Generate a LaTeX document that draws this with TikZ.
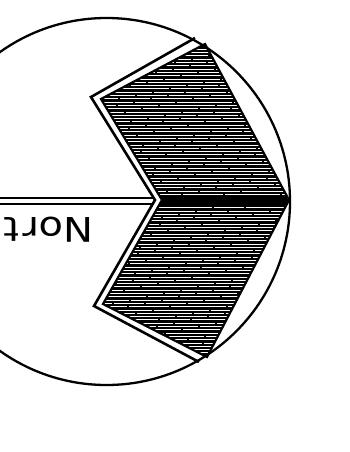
\documentclass[tikz,border=0pt]{standalone}
\usepackage{fontspec}
\newfontfamily\labelfont{DejaVu Sans}
\tikzset{
  rim/.style={line width=2.3pt},
  chevronline/.style={line width=2.6pt, line join=miter},
  hatchline/.style={white, line width=0.95pt, dash pattern=on 55pt off 2pt on 30pt off 1.5pt on 40pt off 2.5pt},
  labeltext/.style={font=\labelfont\fontsize{34}{34}\selectfont, inner sep=0pt, rotate=180, anchor=base west, xscale=1.18}
}
\begin{document}
\begin{tikzpicture}[x=1pt,y=-1pt]
\useasboundingbox (0,0) rectangle (350,452);
\clip (0,0) rectangle (350,452);
\coordinate (O) at (106.5,201.5);
% hatched chevron corners
\coordinate (h1) at (205,44);
\coordinate (h2) at (101,99);
\coordinate (h3) at (162,200);
\coordinate (h4) at (103,304);
\coordinate (h5) at (207,357);
\coordinate (h6) at (289,200);
% outer chevron line
\coordinate (o1) at (195,38);
\coordinate (o2) at (91,97);
\coordinate (o3) at (155,200);
\coordinate (o4) at (94,306);
\coordinate (o5) at (199,362);
% double line ends
\coordinate (a0) at (0,198);
\coordinate (a1) at (154,198);
\coordinate (b0) at (0,204);
\coordinate (b1) at (153,204);
\begin{scope}
  \clip (h1)--(h2)--(h3)--(h4)--(h5)--(h6)--cycle;
  \fill[black] (90,30) rectangle (300,370);
  \foreach \y [count=\i] in {46,49.3,...,356} {
    \draw[hatchline, dash phase=\i*17pt] (90,\y) -- (300,\y);
  }
  \fill[black] (150,195.5) rectangle (300,205);
\end{scope}
\draw[line width=2.2pt, line join=miter] (h1)--(h2)--(h3)--(h4)--(h5)--(h6)--cycle;
\draw[chevronline] (o1)--(o2)--(o3)--(o4)--(o5);
\draw[rim] (O) circle (183.5);
\draw[line width=2pt] (a0) -- (a1);
\draw[line width=2pt] (b0) -- (b1);
\node[labeltext] (lbl) at (94,217) {Nor\kern3pt t};
\end{tikzpicture}
\end{document}
